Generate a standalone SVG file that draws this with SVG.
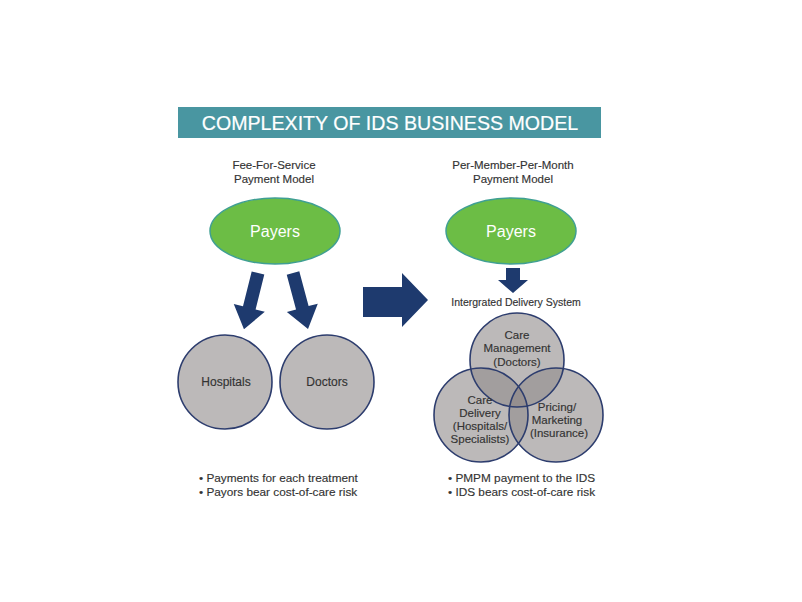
<svg xmlns="http://www.w3.org/2000/svg" width="802" height="602" viewBox="0 0 802 602">
<style>
text{font-family:"Liberation Sans",Arial,sans-serif;fill:#333;text-anchor:middle;stroke:#333;stroke-width:0.15}
.title{fill:#fff;stroke:#fff;stroke-width:0.2;font-size:19.6px}
.sub{font-size:11.5px}
.payer{fill:#6cbd45;stroke:#3f9f93;stroke-width:1.5}
.ptxt{fill:#fff;stroke:none;font-size:16px}
.circ{fill:#bcb9b9}
.ring{fill:none;stroke:#2d3d6e;stroke-width:1.6}
.ctxt{font-size:12px}
.vtxt{font-size:11.5px}
.arrow{fill:#1e3a6e}
.bul{font-size:11.8px;text-anchor:start}
</style>
<defs>
<clipPath id="cT"><circle cx="517" cy="360" r="47"/></clipPath>
<clipPath id="cL"><circle cx="481" cy="415" r="47"/></clipPath>
<clipPath id="cR"><circle cx="556" cy="415" r="47"/></clipPath>
<polygon id="dArrow" points="-6.5,0 6.5,0 6.5,36 16,36 0,58 -16,36 -6.5,36"/>
</defs>
<rect width="802" height="602" fill="#fff"/>
<g id="title">
<rect x="178" y="107" width="423" height="31" fill="#4996a1"/>
<text class="title" x="390" y="129.5">COMPLEXITY OF IDS BUSINESS MODEL</text>
</g>
<g id="subtitle-ffs">
<text class="sub" x="274" y="169">Fee-For-Service</text>
<text class="sub" x="274" y="183">Payment Model</text>
</g>
<g id="subtitle-pmpm">
<text class="sub" x="513" y="169">Per-Member-Per-Month</text>
<text class="sub" x="513" y="183">Payment Model</text>
</g>
<g id="payers-left">
<ellipse class="payer" cx="275" cy="231" rx="65" ry="33"/>
<text class="ptxt" x="275" y="237">Payers</text>
</g>
<g id="payers-right">
<ellipse class="payer" cx="511" cy="231" rx="65" ry="33"/>
<text class="ptxt" x="511" y="237">Payers</text>
</g>
<g id="connectors">
<use href="#dArrow" class="arrow" transform="translate(258,273) rotate(14)"/>
<use href="#dArrow" class="arrow" transform="translate(293,273) rotate(-15)"/>
<polygon class="arrow" points="363,287 402,287 402,273 428,300 402,327 402,317 363,317"/>
<polygon class="arrow" points="506,268 520,268 520,280 528,280 513,293 498,280 506,280"/>
</g>
<g id="ids-label">
<text x="516" y="306" style="font-size:10.5px">Intergrated Delivery System</text>
</g>
<g id="hospitals">
<circle class="circ" cx="225" cy="382" r="47"/>
<circle class="ring" cx="225" cy="382" r="47"/>
<text class="ctxt" x="226" y="386">Hospitals</text>
</g>
<g id="doctors">
<circle class="circ" cx="327" cy="382" r="47"/>
<circle class="ring" cx="327" cy="382" r="47"/>
<text class="ctxt" x="327" y="386">Doctors</text>
</g>
<g id="venn">
<circle class="circ" cx="517" cy="360" r="47"/>
<circle class="circ" cx="481" cy="415" r="47"/>
<circle class="circ" cx="556" cy="415" r="47"/>
<g clip-path="url(#cT)">
<circle cx="481" cy="415" r="47" fill="#a29e9e"/>
<circle cx="556" cy="415" r="47" fill="#a29e9e"/>
</g>
<g clip-path="url(#cL)">
<circle cx="556" cy="415" r="47" fill="#a29e9e"/>
<g clip-path="url(#cT)"><circle cx="556" cy="415" r="47" fill="#958f8f"/></g>
</g>
<circle class="ring" cx="517" cy="360" r="47"/>
<circle class="ring" cx="481" cy="415" r="47"/>
<circle class="ring" cx="556" cy="415" r="47"/>
</g>
<g id="care-management">
<text class="vtxt" x="517" y="339">Care</text>
<text class="vtxt" x="517" y="352">Management</text>
<text class="vtxt" x="517" y="366">(Doctors)</text>
</g>
<g id="care-delivery">
<text class="vtxt" x="480" y="404">Care</text>
<text class="vtxt" x="480" y="417">Delivery</text>
<text class="vtxt" x="480" y="430">(Hospitals/</text>
<text class="vtxt" x="480" y="443">Specialists)</text>
</g>
<g id="pricing">
<text class="vtxt" x="557" y="411">Pricing/</text>
<text class="vtxt" x="557" y="424">Marketing</text>
<text class="vtxt" x="559" y="437">(Insurance)</text>
</g>
<g id="bullets-left">
<text class="bul" x="199" y="482">• Payments for each treatment</text>
<text class="bul" x="199" y="496">• Payors bear cost-of-care risk</text>
</g>
<g id="bullets-right">
<text class="bul" x="448" y="482">• PMPM payment to the IDS</text>
<text class="bul" x="448" y="496">• IDS bears cost-of-care risk</text>
</g>
</svg>
